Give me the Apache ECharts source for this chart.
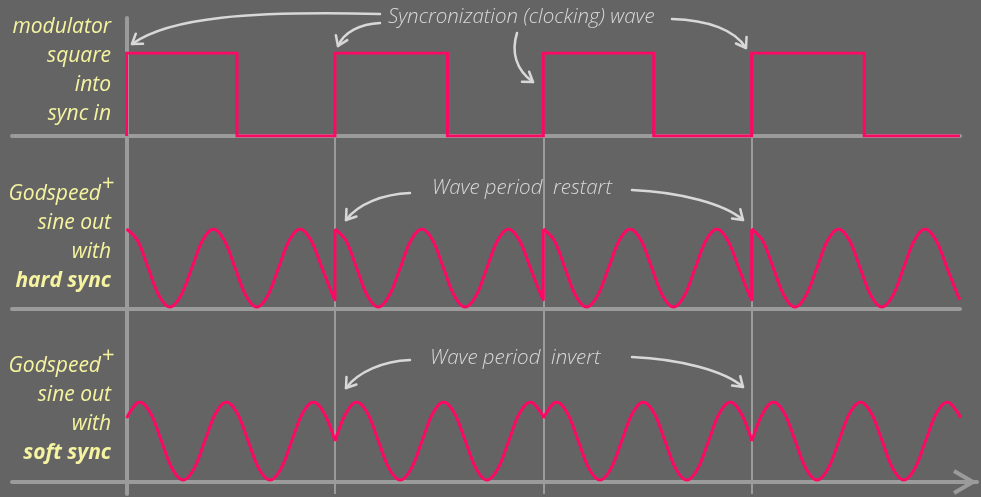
<!DOCTYPE html>
<html><head><meta charset="utf-8">
<script src="https://cdn.jsdelivr.net/npm/echarts@6/dist/echarts.min.js"></script>
<style>html,body{margin:0;padding:0;background:#646464;}#c{width:981px;height:497px;}</style>
</head><body><div id="c"></div>
<script>
// ---- data (x in clock periods, y in wave units) ----
const syncEdges = [1, 2, 3];
const clockWave = [[0,0],[0,1],[0.53,1],[0.53,0],[1,0],[1,1],[1.54,1],[1.54,0],[2,0],[2,1],[2.53,1],[2.53,0],[3,0],[3,1],[3.54,1],[3.54,0],[4,0]];

const hardSync1 = [[0,1],[0.052,0.71],[0.104,0],[0.156,-0.71],[0.208,-1],[0.26,-0.71],[0.313,0],[0.365,0.71],[0.417,1],[0.469,0.71],[0.521,0],[0.573,-0.71],[0.625,-1],[0.677,-0.71],[0.729,0],[0.781,0.71],[0.833,1],[0.885,0.71],[0.938,0],[0.99,-0.71],[1,-0.81],[1,1]];
const hardSync2 = [[1,1],[1.052,0.71],[1.104,0],[1.156,-0.71],[1.208,-1],[1.26,-0.71],[1.313,0],[1.365,0.71],[1.417,1],[1.469,0.71],[1.521,0],[1.573,-0.71],[1.625,-1],[1.677,-0.71],[1.729,0],[1.781,0.71],[1.833,1],[1.885,0.71],[1.938,0],[1.99,-0.71],[2,-0.81],[2,1]];
const hardSync3 = [[2,1],[2.052,0.71],[2.104,0],[2.156,-0.71],[2.208,-1],[2.26,-0.71],[2.313,0],[2.365,0.71],[2.417,1],[2.469,0.71],[2.521,0],[2.573,-0.71],[2.625,-1],[2.677,-0.71],[2.729,0],[2.781,0.71],[2.833,1],[2.885,0.71],[2.938,0],[2.99,-0.71],[3,-0.81],[3,1]];
const hardSync4 = [[3,1],[3.052,0.71],[3.104,0],[3.156,-0.71],[3.208,-1],[3.26,-0.71],[3.313,0],[3.365,0.71],[3.417,1],[3.469,0.71],[3.521,0],[3.573,-0.71],[3.625,-1],[3.677,-0.71],[3.729,0],[3.781,0.71],[3.833,1],[3.885,0.71],[3.938,0],[3.99,-0.71],[4,-0.81]];

const softSync1 = [[0,0.59],[0.063,1],[0.115,0.71],[0.167,0],[0.219,-0.71],[0.271,-1],[0.323,-0.71],[0.375,0],[0.427,0.71],[0.479,1],[0.531,0.71],[0.583,0],[0.635,-0.71],[0.688,-1],[0.74,-0.71],[0.792,0],[0.844,0.71],[0.896,1],[0.948,0.71],[1,0]];
const softSync2 = [[1,0],[1.052,0.71],[1.104,1],[1.156,0.71],[1.208,0],[1.26,-0.71],[1.313,-1],[1.365,-0.71],[1.417,0],[1.469,0.71],[1.521,1],[1.573,0.71],[1.625,0],[1.677,-0.71],[1.729,-1],[1.781,-0.71],[1.833,0],[1.885,0.71],[1.938,1],[1.99,0.71],[2,0.59]];
const softSync3 = [[2,0.59],[2.063,1],[2.115,0.71],[2.167,0],[2.219,-0.71],[2.271,-1],[2.323,-0.71],[2.375,0],[2.427,0.71],[2.479,1],[2.531,0.71],[2.583,0],[2.635,-0.71],[2.688,-1],[2.74,-0.71],[2.792,0],[2.844,0.71],[2.896,1],[2.948,0.71],[3,0]];
const softSync4 = [[3,0],[3.052,0.71],[3.104,1],[3.156,0.71],[3.208,0],[3.26,-0.71],[3.313,-1],[3.365,-0.71],[3.417,0],[3.469,0.71],[3.521,1],[3.573,0.71],[3.625,0],[3.677,-0.71],[3.729,-1],[3.781,-0.71],[3.833,0],[3.885,0.71],[3.938,1],[3.99,0.71],[4,0.59]];

const squareLabel = ['modulator', 'square', 'into', 'sync in'];
const hardLabel = ['Godspeed', 'sine out', 'with', 'hard sync'];
const softLabel = ['Godspeed', 'sine out', 'with', 'soft sync'];
const noteClock = 'Syncronization (clocking) wave';
const noteHard = 'Wave period  restart';
const noteSoft = 'Wave period  invert';

// ---- styles / layout ----
const PINK = '#fd0865', AXIS = '#9b9b9b', YEL = '#f6f4a0', NOTE = '#d8d8d8';
const XMIN = -0.55, XMAX = 4;
const LABEL_FONT = '"Open Sans"';

function xAxisDef(gi, max, lineOpt) {
  return { type: 'value', gridIndex: gi, min: XMIN, max: max,
    axisTick: {show: false}, axisLabel: {show: false}, splitLine: {show: false},
    axisLine: lineOpt || {show: false} };
}
function yAxisDef(gi, min, max, lineOpt) {
  return { type: 'value', gridIndex: gi, min: min, max: max,
    axisTick: {show: false}, axisLabel: {show: false}, splitLine: {show: false},
    axisLine: lineOpt || {show: false} };
}
const baseLine = {show: true, onZero: false, lineStyle: {color: AXIS, width: 4, cap: 'round'}};

function waveSeries(data, xi, opts) {
  return Object.assign({ type: 'line', xAxisIndex: xi, yAxisIndex: xi, data: data,
    showSymbol: false, symbol: 'none', silent: true, animation: false,
    lineStyle: {color: PINK, width: 3, join: 'round'}, z: 5 }, opts || {});
}

const series = [
  { type: 'line', xAxisIndex: 1, yAxisIndex: 1, data: [], silent: true,
    markLine: { silent: true, symbol: ['none', 'none'], animation: false, label: {show: false},
      lineStyle: {color: AXIS, width: 2, type: 'solid'},
      data: syncEdges.map(v => ({xAxis: v})) } },
  waveSeries(clockWave, 2, {lineStyle: {color: PINK, width: 3, join: 'miter'}}),
];
[hardSync1, hardSync2, hardSync3, hardSync4].forEach(d => series.push(waveSeries(d, 3, {smooth: 0.35})));
[softSync1, softSync2, softSync3, softSync4].forEach(d => series.push(waveSeries(d, 4, {smooth: 0.35})));

// ---- annotation graphics ----
const graphic = [];
function labelBlock(lines, y0, step, boldLast, plus) {
  lines.forEach((t, i) => {
    const isBold = boldLast && i === lines.length - 1;
    const xr = (plus && i === 0) ? 101 : 111;
    graphic.push({ type: 'text', silent: true, style: {
      text: t, x: xr, y: y0 + i * step, fill: YEL,
      font: 'italic ' + (isBold ? '700 ' : '500 ') + '21px ' + LABEL_FONT,
      textAlign: 'right', textVerticalAlign: 'middle', align: 'right', verticalAlign: 'middle' } });
  });
  if (plus) {
    graphic.push({ type: 'text', silent: true, style: { text: '+', x: 102, y: y0 - 10, fill: YEL,
      font: '500 22px ' + LABEL_FONT, textAlign: 'left', textVerticalAlign: 'middle', align: 'left', verticalAlign: 'middle' } });
  }
}
labelBlock(squareLabel, 27, 29, false, false);
labelBlock(hardLabel, 194, 29, true, true);
labelBlock(softLabel, 366, 29, true, true);

function note(t, x, y) {
  graphic.push({ type: 'text', silent: true, style: { text: t, x: x, y: y, fill: NOTE,
    font: 'italic 300 20.5px "Open Sans"', textAlign: 'left', textVerticalAlign: 'middle', align: 'left', verticalAlign: 'middle' } });
}
note(noteClock, 388, 17);
note(noteHard, 432, 188);
note(noteSoft, 430, 358);

const arrowPaths = [
  [380,14, 250,11, 170,17, 132,44],
  [380,23, 360,24, 344,32, 338,46],
  [517,33, 511,52, 516,70, 533,82],
  [672,19, 708,20, 735,30, 746,48],
  [410,193, 383,194, 358,204, 346,220],
  [632,190, 680,192, 725,204, 743,220],
  [410,360, 383,361, 358,372, 346,388],
  [632,357, 680,359, 725,371, 743,387]
];
arrowPaths.forEach(a => {
  graphic.push({ type: 'bezierCurve', silent: true,
    shape: {x1: a[0], y1: a[1], cpx1: a[2], cpy1: a[3], cpx2: a[4], cpy2: a[5], x2: a[6], y2: a[7]},
    style: {stroke: NOTE, lineWidth: 2.5, fill: null, lineCap: 'round'} });
  const dx = a[6] - a[4], dy = a[7] - a[5], len = Math.hypot(dx, dy);
  const ux = dx / len, uy = dy / len, L = 11, ang = 0.6;
  const arm = s => { const c = Math.cos(s * ang), sn = Math.sin(s * ang);
    return [a[6] - L * (ux * c - uy * sn), a[7] - L * (ux * sn + uy * c)]; };
  graphic.push({ type: 'polyline', silent: true,
    shape: {points: [arm(1), [a[6], a[7]], arm(-1)]},
    style: {stroke: NOTE, lineWidth: 2.5, fill: null, lineCap: 'round', lineJoin: 'round'} });
});

const option = {
  backgroundColor: '#646464',
  animation: false,
  grid: [
    {left: 12, right: 21, top: 18, bottom: 3},
    {left: 12, right: 21, top: 136, bottom: 3},
    {left: 12, right: 21, top: 53, bottom: 361},
    {left: 12, right: 21, top: 229, bottom: 188},
    {left: 12, right: 4, top: 402, bottom: 15}
  ],
  xAxis: [
    xAxisDef(0, XMAX), xAxisDef(1, XMAX),
    xAxisDef(2, XMAX, baseLine), xAxisDef(3, XMAX, baseLine),
    xAxisDef(4, 4.08, {show: true, onZero: false, symbol: ['none', 'path://M50,0 L100,86 L86,94 L50,32 L14,94 L0,86 Z'],
      symbolSize: [26, 24], symbolOffset: [0, -12], lineStyle: {color: AXIS, width: 4, cap: 'round'}})
  ],
  yAxis: [
    yAxisDef(0, 0, 1, {show: true, onZero: true, lineStyle: {color: AXIS, width: 4, cap: 'round'}}),
    yAxisDef(1, 0, 1), yAxisDef(2, 0, 1), yAxisDef(3, -1.05, 1), yAxisDef(4, -1.05, 1)
  ],
  series: series,
  graphic: graphic
};
const chart = echarts.init(document.getElementById('c'));
chart.setOption(option);
</script></body></html>
